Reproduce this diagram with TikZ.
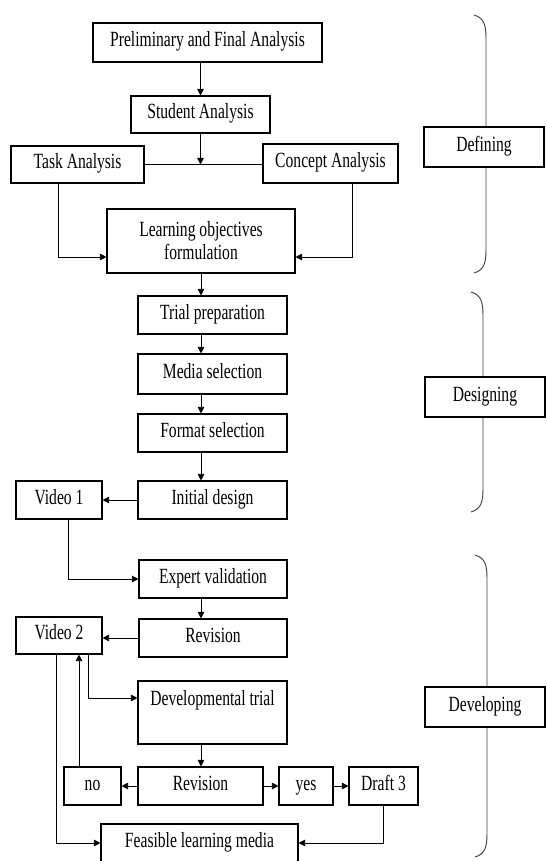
\documentclass[tikz,border=0pt]{standalone}
\usepackage{fontspec}
\setmainfont{Liberation Serif}[FakeStretch=0.72]
\usetikzlibrary{arrows.meta}

\begin{document}
\begin{tikzpicture}[
      x=0.03cm, y=-0.03cm,
      every node/.style={font=\fontsize{18.5}{19.5}\selectfont},
      box/.style={draw, fill=white, line width=0.9pt, minimum height=1.14cm, inner sep=2pt, align=center,
        text height=0.95em, text depth=0.2em},
      tall/.style={text height=, text depth=},
      stage/.style={box, minimum width=3.6cm, minimum height=1.2cm},
      link/.style={line width=0.8pt, -{Triangle[length=2mm, width=2mm]}},
      plain/.style={line width=0.8pt},
      brace/.style={line width=0.8pt, draw=black!75}
    ]
    \useasboundingbox (0,0) rectangle (546,861);
    \clip (0,0) rectangle (546,861);
    \coordinate (spine) at (201,0);

    % defining
    \node[box, minimum width=6.87cm, minimum height=1.17cm] (prelim) at (207.5,42.5) {Preliminary and Final Analysis};
    \node[box, minimum width=4.17cm, minimum height=1.11cm] (student) at (200.5,114.5) {Student Analysis};
    \node[box, minimum width=3.99cm, minimum height=1.11cm] (task) at (77.5,164.5) {Task Analysis};
    \node[box, minimum width=4.05cm, minimum height=1.17cm] (concept) at (330.5,163.5) {Concept Analysis};
    \node[box, tall, minimum width=5.64cm, minimum height=1.92cm] (objectives) at (201,241) {Learning objectives\\formulation};

    % designing
    \node[box, minimum width=4.47cm] (trial) at (212.5,315) {Trial preparation};
    \node[box, minimum width=4.47cm, minimum height=1.2cm] (media) at (212.5,374) {Media selection};
    \node[box, minimum width=4.47cm] (format) at (212.5,433) {Format selection};
    \node[box, minimum width=4.47cm] (initial) at (212.5,500) {Initial design};
    \node[box, minimum width=2.58cm] (video1) at (59,500) {Video 1};

    % developing
    \node[box, minimum width=4.44cm] (expert) at (213,579) {Expert validation};
    \node[box, minimum width=4.44cm] (revA) at (213,638) {Revision};
    \node[box, minimum width=2.58cm, minimum height=1.11cm] (video2) at (59,635.5) {Video 2};
    \node[box, tall, minimum width=4.47cm, minimum height=1.89cm] (devtrial) at (212.5,712.5) {Developmental trial\\ \strut};
    \node[box, minimum width=3.75cm] (revB) at (200.5,786) {Revision};
    \node[box, minimum width=1.71cm] (no) at (92.5,786) {no};
    \node[box, minimum width=1.62cm] (yes) at (306,786) {yes};
    \node[box, minimum width=2.07cm] (draft) at (383.5,786) {Draft 3};
    \node[box, minimum width=5.91cm] (feasible) at (199.5,843) {Feasible learning media};

    \draw[link] (prelim.south -| student) -- (student.north);
    \draw[plain] (task.east) -- (task -| concept.west);
    \draw[link] (student.south) -- (student |- task);
    \draw[link] ([xshift=-0.585cm]task.south) |- ([yshift=-0.48cm]objectives.west);
    \draw[link] ([xshift=0.645cm]concept.south) |- ([yshift=-0.48cm]objectives.east);
    \draw[link] (objectives.south -| spine) -- (trial.north -| spine);
    \draw[link] (trial.south -| spine) -- (media.north -| spine);
    \draw[link] (media.south -| spine) -- (format.north -| spine);
    \draw[link] (format.south -| spine) -- (initial.north -| spine);
    \draw[link] (initial.west) -- (video1.east);
    \draw[link] ([xshift=0.27cm]video1.south) |- (expert.west);
    \draw[link] (expert.south -| spine) -- (revA.north -| spine);
    \draw[link] (revA.west) -- (revA.west -| video2.east);
    \draw[link] ([xshift=0.87cm]video2.south) |- ([yshift=0.435cm]devtrial.west);
    \draw[link] (devtrial.south -| spine) -- (revB.north -| spine);
    \draw[link] (revB.west) -- (no.east);
    \draw[link] (revB.east) -- (yes.west);
    \draw[link] (yes.east) -- (draft.west);
    \draw[link] ([xshift=-0.405cm]no.north) -- ([xshift=-0.405cm]no.north |- video2.south);
    \draw[link] ([xshift=-0.09cm]video2.south) |- (feasible.west);
    \draw[link] (draft.south) |- (feasible.east);

    % braces
    \foreach \top/\bot/\xl in {15/273/486, 292/512/483, 555/857/487}{
      \draw[brace] (\xl-12,\top) .. controls (\xl-1,\top+3) and (\xl,\top+12) .. (\xl,\top+24)
        -- (\xl,\bot-24) .. controls (\xl,\bot-12) and (\xl-1,\bot-3) .. (\xl-12,\bot);
    }
    \node[stage] (defining) at (484,147) {Defining};
    \node[stage] (designing) at (485,397) {Designing};
    \node[stage] (developing) at (485,707) {Developing};
\end{tikzpicture}
\end{document}
